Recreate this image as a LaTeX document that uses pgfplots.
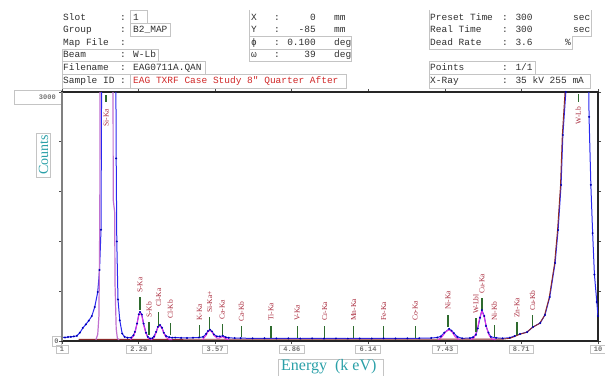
\documentclass[border=0pt]{standalone}
\usepackage{fontspec}
\setmainfont{Liberation Serif}
\newfontfamily\mono{Liberation Mono}
\usepackage{pgfplots}
\pgfplotsset{compat=1.18}
\definecolor{specblue}{HTML}{2828F0}
\definecolor{fitmag}{HTML}{E030E0}
\definecolor{sipurp}{HTML}{C070D0}
\definecolor{bgbrown}{HTML}{8B2A2A}
\definecolor{mkgreen}{HTML}{2E6B2E}
\definecolor{lblred}{HTML}{A8283A}
\definecolor{teal2}{HTML}{2AA0A8}
\definecolor{boxgray}{HTML}{C4C4C4}
\definecolor{hdr}{HTML}{303030}
\definecolor{sidred}{HTML}{D02828}
\begin{document}
\begin{tikzpicture}[x=1pt,y=1pt,
  h/.style={font=\mono\fontsize{9.5}{10}\selectfont, text=hdr, anchor=base west, inner sep=0pt},
  hr/.style={h, anchor=base east},
  bx/.style={draw=boxgray, line width=0.6pt},
  lbl/.style={font=\fontsize{7.5}{8}\selectfont, text=lblred, rotate=90, anchor=west, inner sep=0pt},
  lblb/.style={lbl, anchor=east}]
\path[use as bounding box] (0,0) rectangle (605,375);
% ---------- header ----------
\def\Ra{354.5}\def\Rb{342}\def\Rc{329.5}\def\Rd{317}\def\Re{304.5}\def\Rf{291}
% left block
\node[h] at (63,\Ra) {Slot};      \node[h] at (120,\Ra) {:}; \node[h] at (133,\Ra) {1};
\node[h] at (63,\Rb) {Group};     \node[h] at (120,\Rb) {:}; \node[h] at (133,\Rb) {B2\_MAP};
\node[h] at (63,\Rc) {Map File};  \node[h] at (120,\Rc) {:};
\node[h] at (63,\Rd) {Beam};      \node[h] at (120,\Rd) {:}; \node[h] at (133,\Rd) {W-Lb};
\node[h] at (63,\Re) {Filename};  \node[h] at (120,\Re) {:}; \node[h] at (133,\Re) {EAG0711A.QAN};
\node[h] at (63,\Rf) {Sample ID}; \node[h] at (120,\Rf) {:};
\node[h, text=sidred] at (133,\Rf) {EAG TXRF Case Study 8" Quarter After};
% middle block
\node[h] at (251,\Ra) {X}; \node[h] at (274,\Ra) {:}; \node[hr] at (316,\Ra) {0};     \node[h] at (334,\Ra) {mm};
\node[h] at (251,\Rb) {Y}; \node[h] at (274,\Rb) {:}; \node[hr] at (316,\Rb) {-85};   \node[h] at (334,\Rb) {mm};
\node[h] at (251,\Rc) {ϕ}; \node[h] at (274,\Rc) {:}; \node[hr] at (316,\Rc) {0.100}; \node[h] at (334,\Rc) {deg};
\node[h] at (251,\Rd) {ω}; \node[h] at (274,\Rd) {:}; \node[hr] at (316,\Rd) {39};    \node[h] at (334,\Rd) {deg};
% right block
\node[h] at (430,\Ra) {Preset Time}; \node[h] at (502,\Ra) {: 300}; \node[h] at (573,\Ra) {sec};
\node[h] at (430,\Rb) {Real Time};   \node[h] at (502,\Rb) {: 300}; \node[h] at (573,\Rb) {sec};
\node[h] at (430,\Rc) {Dead Rate};   \node[h] at (502,\Rc) {: 3.6}; \node[h] at (565,\Rc) {\%};
\node[h] at (430,\Re) {Points};      \node[h] at (502,\Re) {: 1/1};
\node[h] at (430,\Rf) {X-Ray};       \node[h] at (502,\Rf) {: 35 kV 255 mA};
% header boxes
\draw[bx] (130,365) rectangle (147,351.5);
\draw[bx] (130,351.5) rectangle (170,339);
\draw[bx] (62,326) rectangle (158,313.5);
\draw[bx] (62,313.5) rectangle (205,300.5);
\draw[bx] (62,300.5) rectangle (130,287);
\draw[bx] (130,300.5) rectangle (346,287);
\draw[bx] (249,365) -- (249,313.5);
\draw[bx] (249,339) rectangle (351,313.5);
\draw[bx] (249,326) -- (351,326);
\draw[bx] (429,365) -- (429,326) -- (572,326) -- (572,339) -- (591,339) -- (591,365);
\draw[bx] (429,313.5) rectangle (535,300.5);
\draw[bx] (429,300.5) rectangle (590,287);
% y tick label boxes
\draw[bx] (14,285) rectangle (62,271);
\node[font=\mono\bfseries\fontsize{7}{8}\selectfont, text=black!55, anchor=east, inner sep=0pt] at (56,278) {3000};
\draw[bx] (52,29) rectangle (61,39);
\node[font=\mono\bfseries\fontsize{7}{8}\selectfont, text=black!55, inner sep=0pt] at (56.5,34) {0};
% axis titles
\node[draw=boxgray, line width=0.6pt, rotate=90, text=teal2, font=\fontsize{14}{14}\selectfont, inner sep=2pt] at (43.5,220) {Counts};
\draw[bx] (278,-3) -- (278,16) -- (383,16) -- (383,-3);
\node[text=teal2, font=\fontsize{16}{17}\selectfont, anchor=base west, inner sep=0pt] at (281,4.2) {Energy\ \ (k eV)};
% ---------- axis ----------
\begin{axis}[at={(62pt,34pt)}, anchor=south west, width=536pt, height=249pt, scale only axis,
  xmin=1, xmax=10, ymin=0, ymax=3000,
  xtick={1,2.29,3.57,4.86,6.14,7.43,8.71,10},
  xticklabels={1,2.29,3.57,4.86,6.14,7.43,8.71,10},
  ytick={0,600,1200,1800,2400,3000}, yticklabels={},
  tick align=outside, major tick length=3pt,
  tick style={black!70, line width=0.8pt},
  axis line style={draw=black!85, line width=1.1pt},
  xticklabel style={draw=boxgray, line width=0.5pt, font=\mono\bfseries\fontsize{7}{8}\selectfont, text=black!55, inner xsep=4pt, inner ysep=1.5pt, anchor=north, yshift=-1pt},
  unbounded coords=jump]
% blue measured spectrum
\addplot[specblue, line width=1pt, mark=*, mark size=0.4pt, mark options={fill=blue!70!black, draw=blue!70!black}] coordinates {
(1.00,45)(1.05,42)(1.10,48)(1.15,50)(1.20,55)(1.25,62)(1.30,100)(1.35,157)(1.40,200)(1.45,245)(1.50,300)(1.55,410)(1.60,590)(1.63,855)(1.655,1340)(1.67,4000)
(1.90,4000)(1.91,2200)(1.92,1200)(1.94,500)(1.97,250)(2.01,90)(2.05,50)(2.10,40)(2.16,40)(2.20,70)(2.225,110)(2.26,210)(2.29,320)(2.31,350)(2.34,320)(2.37,210)(2.41,100)(2.44,50)(2.48,30)
(2.52,35)(2.545,55)(2.58,110)(2.61,170)(2.645,193)(2.68,160)(2.71,100)(2.745,60)(2.80,45)(2.85,40)(2.90,42)(3.00,38)(3.10,36)(3.20,40)(3.30,42)(3.37,50)(3.42,85)(3.45,120)(3.485,135)(3.52,115)(3.55,80)(3.60,55)(3.65,55)(3.70,62)(3.75,45)(3.80,38)(3.90,35)
(4.0,34)(4.2,32)(4.4,33)(4.6,31)(4.8,32)(5.0,30)(5.2,31)(5.4,30)(5.6,31)(5.8,30)(6.0,31)(6.2,30)(6.4,32)(6.6,31)(6.8,32)(7.0,33)(7.2,36)(7.30,42)
(7.36,55)(7.42,100)(7.50,145)(7.54,125)(7.58,95)(7.64,50)(7.72,32)(7.85,35)(7.90,45)(7.95,75)(7.98,150)(8.02,280)(8.05,373)(8.09,300)(8.12,180)(8.16,100)(8.20,50)(8.29,38)(8.40,32)
(8.52,40)(8.60,60)(8.69,84)(8.81,108)(8.91,169)(9.03,217)(9.11,313)(9.19,530)(9.28,940)(9.33,1337)(9.38,1880)(9.41,2482)(9.46,3000)(9.48,4000)
(9.83,4000)(9.85,2700)(9.88,1880)(9.91,1300)(9.94,800)(9.98,470)(10.0,300)};
% background / W tail fit
\addplot[bgbrown, line width=0.9pt] coordinates {
(1.28,20)(8.40,22)(8.52,32)(8.60,55)(8.68,80)(8.80,104)(8.90,165)(9.02,212)(9.10,305)(9.18,520)(9.27,930)(9.32,1330)(9.37,1870)(9.40,2470)(9.455,3100)(9.47,4000)};
% Si fit
\addplot[sipurp, line width=1.2pt] coordinates {
(1.57,15)(1.60,80)(1.62,300)(1.635,1500)(1.64,4000)(1.855,4000)(1.86,1700)(1.885,1550)(1.89,700)(1.91,150)(1.93,30)(1.96,15)};
% peak fits
\addplot[fitmag, line width=1pt] coordinates {
(2.15,15)(2.20,60)(2.23,110)(2.26,210)(2.29,315)(2.31,342)(2.34,305)(2.37,195)(2.41,90)(2.45,30)(2.50,18)(2.55,45)(2.58,100)(2.61,165)(2.645,186)(2.68,150)(2.71,92)(2.75,42)(2.80,18)(2.85,15)(2.85,nan)
(3.36,15)(3.42,70)(3.45,112)(3.485,128)(3.52,108)(3.55,70)(3.60,35)(3.64,35)(3.67,45)(3.70,52)(3.74,32)(3.80,15)(3.80,nan)
(7.32,15)(7.38,50)(7.44,108)(7.50,138)(7.55,108)(7.60,52)(7.67,15)(7.67,nan)
(7.86,15)(7.92,40)(7.97,130)(8.01,268)(8.05,362)(8.09,288)(8.13,160)(8.17,70)(8.22,22)(8.28,15)};
% line markers
\addplot[mkgreen, line width=1.3pt] coordinates {
(1.74,2880)(1.74,2964)(1.74,nan)
(2.31,373)(2.31,530)(2.31,nan)
(2.46,72)(2.46,229)(2.46,nan)
(2.62,181)(2.62,349)(2.62,nan)
(2.82,72)(2.82,217)(2.82,nan)
(3.31,48)(3.31,193)(3.31,nan)
(3.48,133)(3.48,289)(3.48,nan)
(3.69,60)(3.69,205)(3.69,nan)
(4.01,48)(4.01,181)(4.01,nan)
(4.51,36)(4.51,181)(4.51,nan)
(4.95,36)(4.95,181)(4.95,nan)
(5.41,36)(5.41,181)(5.41,nan)
(5.90,36)(5.90,181)(5.90,nan)
(6.40,36)(6.40,181)(6.40,nan)
(6.93,36)(6.93,181)(6.93,nan)
(7.48,169)(7.48,313)(7.48,nan)
(7.95,108)(7.95,277)(7.95,nan)
(8.05,373)(8.05,518)(8.05,nan)
(8.26,48)(8.26,193)(8.26,nan)
(8.64,72)(8.64,229)(8.64,nan)
(8.90,169)(8.90,313)(8.90,nan)
(9.67,2880)(9.67,2976)};
% labels
\node[lblb] at ([yshift=-7pt]axis cs:1.74,2880) {Si-Ka};
\node[lblb] at ([yshift=-5pt]axis cs:9.67,2880) {W-Lb};
\node[lbl] at ([yshift=4pt]axis cs:2.31,530) {S-Ka};
\node[lbl] at ([yshift=4pt]axis cs:2.46,229) {S-Kb};
\node[lbl] at ([yshift=5pt]axis cs:2.62,349) {Cl-Ka};
\node[lbl] at ([yshift=4pt]axis cs:2.82,217) {Cl-Kb};
\node[lbl] at ([yshift=4pt]axis cs:3.31,193) {K-Ka};
\node[lbl] at ([yshift=4pt]axis cs:3.48,289) {Si-Ka+};
\node[lbl] at ([yshift=4pt]axis cs:3.69,205) {Ca-Ka};
\node[lbl] at ([yshift=4pt]axis cs:4.01,181) {Ca-Kb};
\node[lbl] at ([yshift=5pt]axis cs:4.51,181) {Ti-Ka};
\node[lbl] at ([yshift=5pt]axis cs:4.95,181) {V-Ka};
\node[lbl] at ([yshift=5pt]axis cs:5.41,181) {Cr-Ka};
\node[lbl] at ([yshift=5pt]axis cs:5.90,181) {Mn-Ka};
\node[lbl] at ([yshift=5pt]axis cs:6.40,181) {Fe-Ka};
\node[lbl] at ([yshift=5pt]axis cs:6.93,181) {Co-Ka};
\node[lbl] at ([yshift=5pt]axis cs:7.48,313) {Ni-Ka};
\node[lbl] at ([yshift=4pt]axis cs:7.95,277) {W-Lbl};
\node[lbl] at ([yshift=4pt]axis cs:8.05,518) {Cu-Ka};
\node[lbl] at ([yshift=4pt]axis cs:8.26,193) {Ni-Kb};
\node[lbl] at ([yshift=4pt]axis cs:8.64,229) {Zn-Ka};
\node[lbl] at ([yshift=4pt]axis cs:8.90,313) {Cu-Kb};
\end{axis}
\draw[black!50, line width=1.1pt] (62,34) -- (62,283);
\end{tikzpicture}
\end{document}
